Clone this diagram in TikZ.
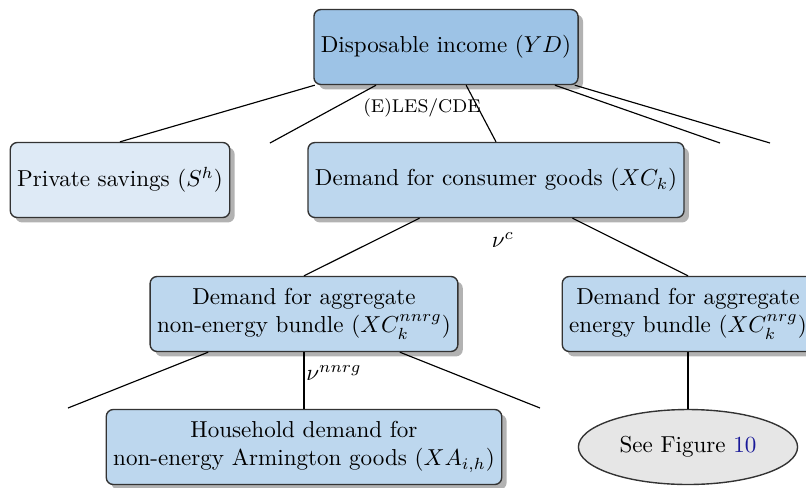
\documentclass[tikz,border=0pt]{standalone}
\usepackage{amsmath,amssymb}
\usepackage{xcolor}
\usepackage{tikz}
\usetikzlibrary{shapes.geometric,shadows}
\definecolor{topblue}{HTML}{9DC3E6}
\definecolor{midblue}{HTML}{BDD7EE}
\definecolor{paleblue}{HTML}{DEEAF6}
\definecolor{ovalgray}{HTML}{E6E6E6}
\definecolor{linkblue}{HTML}{1A1A99}
\tikzset{
  box/.style={draw=black!80, line width=0.6pt, rounded corners=3pt, align=center,
    inner sep=3pt, minimum height=32.5pt, fill=midblue,
    drop shadow={fill=black!30, opacity=1}},
  topbox/.style={box, fill=topblue},
  palebox/.style={box, fill=paleblue},
  oval/.style={ellipse, draw=black!80, line width=0.6pt, fill=ovalgray,
    minimum width=95pt, minimum height=32.5pt, inner sep=2pt},
  edge/.style={draw=black, line width=0.5pt},
  lbl/.style={font=\footnotesize, inner sep=1pt},
}
\begin{document}
\begin{tikzpicture}[x=0.4335pt, y=-0.4335pt]
  \useasboundingbox (0,0) rectangle (806,487);

  % levels
  \node[topbox] (yd) at (446,47) {Disposable income ($YD$)};
  \node[palebox] (sav) at (120,180) {Private savings ($S^h$)};
  \node[box] (xc) at (496,180) {Demand for consumer goods ($XC_k$)};
  \node[box] (nnrg) at (304,314) {Demand for aggregate\\non-energy bundle ($XC_k^{nnrg}$)};
  \node[box] (nrg) at (688,314) {Demand for aggregate\\energy bundle ($XC_k^{nrg}$)};
  \node[box] (xa) at (304,447) {Household demand for\\non-energy Armington goods ($XA_{i,h}$)};
  \node[oval] (fig) at (688,447) {See Figure \textcolor{linkblue}{10}};

  % empty branches
  \coordinate (e1) at (270,143);
  \coordinate (e2) at (720,143);
  \coordinate (e3) at (770,143);
  \coordinate (e4) at (68,408);
  \coordinate (e5) at (540,408);

  \draw[edge] (yd) -- (sav.north);
  \draw[edge] (yd) -- (e1);
  \draw[edge] (yd) -- (xc.north);
  \draw[edge] (yd) -- (e2);
  \draw[edge] (yd) -- (e3);

  \draw[edge] (xc) -- (nnrg.north);
  \draw[edge] (xc) -- (nrg.north);

  \draw[edge] (nnrg) -- (e4);
  \draw[edge] (nnrg) -- (xa.north);
  \draw[edge] (nnrg) -- (e5);

  \draw[edge] (nrg) -- (fig.north);

  % elasticities
  \node[lbl] (les) at (422,108) {(E)LES/CDE};
  \node[lbl, font=\normalsize] (nuc) at (503,240) {$\nu^c$};
  \node[lbl, font=\normalsize] (nunn) at (334,373) {$\nu^{nnrg}$};
\end{tikzpicture}
\end{document}
